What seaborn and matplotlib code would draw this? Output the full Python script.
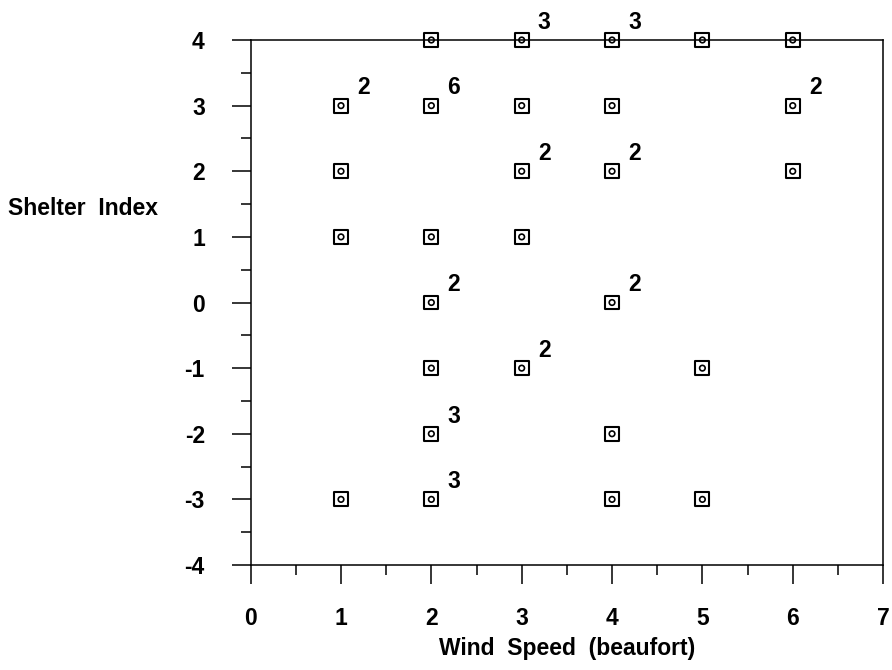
"""
Shelter index vs. wind speed (beaufort) -- counts of coincident observations.
"""

import matplotlib.pyplot as plt
import pandas as pd
import seaborn as sns
from matplotlib.ticker import MultipleLocator

sns.set_theme(style="ticks")
plt.rcParams["font.family"] = ["Liberation Sans Narrow", "Liberation Sans", "DejaVu Sans"]
plt.rcParams["font.weight"] = "bold"
plt.rcParams["axes.unicode_minus"] = False
for key in ["text.color", "axes.labelcolor", "xtick.color", "ytick.color", "axes.edgecolor"]:
    plt.rcParams[key] = "black"

# observation grid (wind speed, shelter index) and number of coincident obs
WIND = [2, 3, 4, 5, 6,
        1, 2, 3, 4, 6,
        1, 3, 4, 6,
        1, 2, 3,
        2, 4,
        2, 3, 5,
        2, 4,
        1, 2, 4, 5]
SHELTER = [4, 4, 4, 4, 4,
           3, 3, 3, 3, 3,
           2, 2, 2, 2,
           1, 1, 1,
           0, 0,
           -1, -1, -1,
           -2, -2,
           -3, -3, -3, -3]
COUNT = [1, 3, 3, 1, 1,
         2, 6, 1, 1, 2,
         1, 2, 2, 1,
         1, 1, 1,
         2, 2,
         1, 2, 1,
         3, 1,
         1, 3, 1, 1]

X_TICKS = [0, 1, 2, 3, 4, 5, 6, 7]
Y_TICKS = [-4, -3, -2, -1, 0, 1, 2, 3, 4]

FS = 16.5

df = pd.DataFrame({"wind": WIND, "shelter": SHELTER, "n": COUNT})

fig = plt.figure(figsize=(8.92, 6.70), dpi=100)
ax = fig.add_axes([0.281, 0.1567, 0.709, 0.7836])

sns.scatterplot(data=df, x="wind", y="shelter", marker="s", s=100,
                facecolor="none", edgecolor="black", linewidth=1.5,
                ax=ax, clip_on=False, zorder=3)
sns.scatterplot(data=df, x="wind", y="shelter", marker="o", s=16,
                facecolor="none", edgecolor="black", linewidth=1.2,
                ax=ax, clip_on=False, zorder=4)

# count labels, offset up-right of the marker
for _, row in df[df["n"] > 1].iterrows():
    ax.text(row["wind"] + 0.25, row["shelter"] + 0.27, f"{row['n']}",
            ha="center", va="center", fontsize=FS, fontweight="bold",
            color="black", clip_on=False)

ax.set_xlim(0, 7)
ax.set_ylim(-4, 4)
ax.set_xticks(X_TICKS)
ax.set_yticks(Y_TICKS)
ax.xaxis.set_minor_locator(MultipleLocator(0.5))
ax.yaxis.set_minor_locator(MultipleLocator(0.5))
ax.tick_params(which="major", length=14, width=1.1, direction="out",
               labelsize=FS, colors="black")
ax.tick_params(which="minor", length=7, width=1.1, direction="out", colors="black")
ax.tick_params(axis="x", which="major", pad=16)
ax.tick_params(axis="y", which="major", pad=19)
for lbl in ax.get_xticklabels() + ax.get_yticklabels():
    lbl.set_fontweight("bold")

for spine in ax.spines.values():
    spine.set_visible(True)
    spine.set_linewidth(1.1)
    spine.set_color("black")

ax.set_xlabel("Wind  Speed  (beaufort)", fontsize=FS, fontweight="bold", labelpad=5)
ax.set_ylabel("Shelter  Index", fontsize=FS, fontweight="bold",
              rotation=0, ha="left", va="center")
ax.yaxis.set_label_coords(-0.384, 0.68)

fig.savefig("out.png", dpi=100)
plt.close(fig)
